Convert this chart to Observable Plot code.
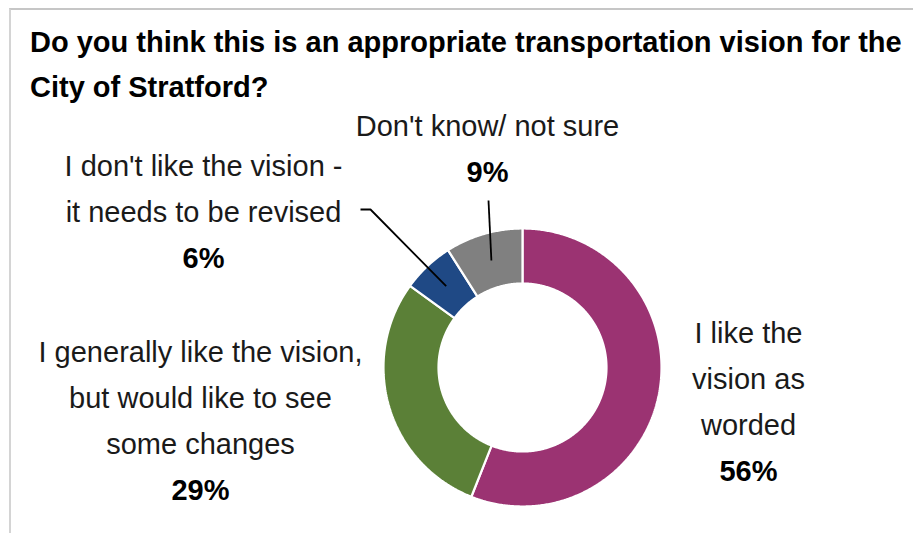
<!DOCTYPE html>
<html>
<head>
<meta charset="utf-8">
<script src="https://cdn.jsdelivr.net/npm/d3@7"></script>
<script src="https://cdn.jsdelivr.net/npm/@observablehq/plot@0.6"></script>
<style>
  html, body { margin: 0; padding: 0; background: #fff; }
  body { width: 913px; height: 533px; position: relative; overflow: hidden; font-family: "Liberation Sans", Arial, sans-serif; }
  #frame { position: absolute; left: 9px; top: 8px; width: 904px; height: 525px;
           border-top: 2px solid #c6c6c6; border-left: 2px solid #d4d4d4; box-sizing: border-box; }
  #title { position: absolute; left: 30px; top: 20px; font-size: 29px; font-weight: bold; line-height: 45px;
           color: #000; white-space: nowrap; }
  #chart { position: absolute; left: 0; top: 110px; }
</style>
</head>
<body>
<div id="frame"></div>
<div id="title">Do you think this is an appropriate transportation vision for the<br>City of Stratford?</div>
<div id="chart"></div>
<script>
// ---- data ----
const categories = [
  "I like the vision as worded",
  "I generally like the vision, but would like to see some changes",
  "I don't like the vision - it needs to be revised",
  "Don't know/ not sure"
];
const values = [56, 29, 6, 9];
const labelLines = [
  ["I like the", "vision as", "worded"],
  ["I generally like the vision,", "but would like to see", "some changes"],
  ["I don't like the vision -", "it needs to be revised"],
  ["Don't know/ not sure"]
];
const pctLabels = ["56%", "29%", "6%", "9%"];
const colors = ["#9B3372", "#5B8037", "#1F4985", "#808080"];

// ---- layout (pixels) ----
const W = 913, H = 423, CX = 522, CY = 257;
const R_OUT = 139, R_IN = 84, LINE = 46;
const labelAnchor = [[226, -34], [-322, -15], [-319, -201], [-35, -241]];
const leaderEnds = [null, null, [[-152, -158], [-162, -158]], [[-34, -167]]];

// ---- derived geometry ----
const arcs = d3.pie().sort(null).value(d => d)(values);
const slicePts = [];
arcs.forEach((a, k) => {
  const n = Math.max(4, Math.ceil((a.endAngle - a.startAngle) / (Math.PI / 360)));
  for (let i = 0; i <= n; i++) {
    const t = a.startAngle + (a.endAngle - a.startAngle) * i / n;
    slicePts.push({cat: categories[k], x: R_OUT * Math.sin(t), y: R_OUT * Math.cos(t)});
  }
  for (let i = n; i >= 0; i--) {
    const t = a.startAngle + (a.endAngle - a.startAngle) * i / n;
    slicePts.push({cat: categories[k], x: R_IN * Math.sin(t), y: R_IN * Math.cos(t)});
  }
});

const leaderPts = [];
arcs.forEach((a, k) => {
  if (!leaderEnds[k]) return;
  const mid = (a.startAngle + a.endAngle) / 2, rm = (R_OUT + R_IN) / 2;
  leaderPts.push({k, x: rm * Math.sin(mid), y: rm * Math.cos(mid)});
  leaderEnds[k].forEach(([dx, dy]) => leaderPts.push({k, x: dx, y: -dy}));
});

const textRows = [], pctRows = [];
categories.forEach((c, k) => {
  const [dx, dy] = labelAnchor[k];
  labelLines[k].forEach((s, i) => textRows.push({text: s, x: dx, y: -(dy + i * LINE)}));
  pctRows.push({text: pctLabels[k], x: dx, y: -(dy + labelLines[k].length * LINE)});
});

const chart = Plot.plot({
  width: W, height: H, margin: 0,
  style: {background: "transparent", overflow: "visible"},
  x: {domain: [-CX, W - CX], range: [0, W], axis: null},
  y: {domain: [-(H - CY), CY], range: [H, 0], axis: null},
  color: {domain: categories, range: colors},
  marks: [
    Plot.line(slicePts, {x: "x", y: "y", z: "cat", fill: "cat", stroke: "white", strokeWidth: 2.2,
      curve: "linear-closed", strokeLinejoin: "miter"}),
    Plot.line(leaderPts, {x: "x", y: "y", z: "k", stroke: "#000", strokeWidth: 1.8, strokeLinejoin: "miter", strokeLinecap: "butt"}),
    Plot.text(textRows, {x: "x", y: "y", text: "text", fontFamily: "Liberation Sans, Arial, sans-serif",
      fontSize: 29, fill: "#1a1a1a", textAnchor: "middle", lineAnchor: "middle"}),
    Plot.text(pctRows, {x: "x", y: "y", text: "text", fontFamily: "Liberation Sans, Arial, sans-serif",
      fontSize: 29, fontWeight: "bold", fill: "#000", textAnchor: "middle", lineAnchor: "middle"})
  ]
});
document.getElementById("chart").appendChild(chart);
</script>
</body>
</html>
